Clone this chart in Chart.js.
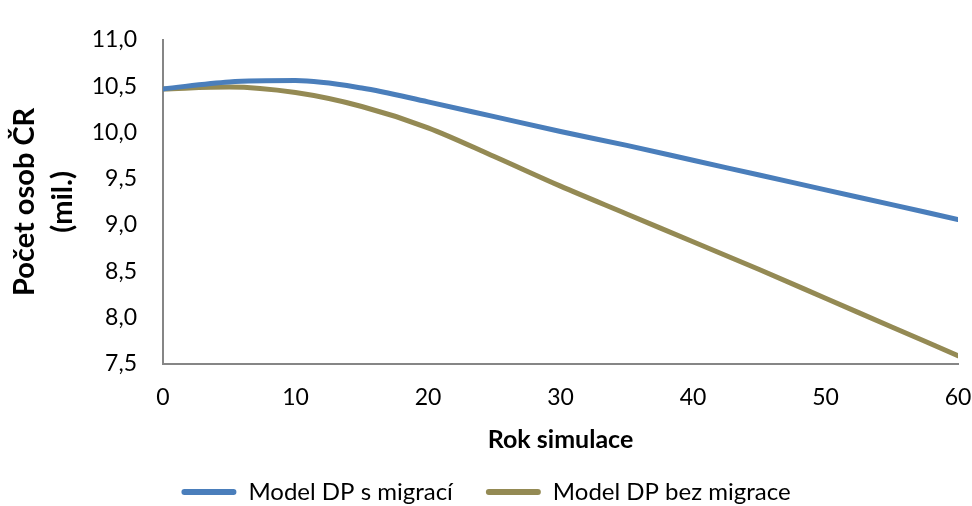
<!DOCTYPE html>
<html>
<head>
<meta charset="utf-8">
<script src="https://cdn.jsdelivr.net/npm/chart.js@4"></script>
<style>
  html, body { margin: 0; padding: 0; background: #fff; }
  #wrap { width: 972px; height: 506px; }
</style>
</head>
<body>
<div id="wrap"><canvas id="graf"></canvas></div>
<script>
// roky simulace a odhadnuté hodnoty (mil. osob)
let roky = [0, 5, 10, 15, 20, 25, 30, 35, 40, 45, 50, 55, 60]
let sMigraci = [10.47, 10.545, 10.56, 10.48, 10.33, 10.17, 10.01, 9.86, 9.70, 9.54, 9.38, 9.22, 9.06]
let bezMigrace = [10.47, 10.49, 10.43, 10.28, 10.05, 9.74, 9.42, 9.12, 8.82, 8.52, 8.21, 7.90, 7.59]
let yTicks = [7.5, 8.0, 8.5, 9.0, 9.5, 10.0, 10.5, 11.0]
let xTicks = [0, 10, 20, 30, 40, 50, 60]

let font = 'Lato, "Open Sans", sans-serif'
let osa = '#868686'

let body = (ys) => roky.map((r, i) => ({ x: r, y: ys[i] }))

new Chart(document.getElementById('graf'), {
  type: 'line',
  data: {
    datasets: [{
      label: 'Model DP s migrací',
      data: body(sMigraci),
      borderColor: '#4a7ebb',
      backgroundColor: '#4a7ebb',
      borderWidth: 5,
      pointRadius: 0,
      cubicInterpolationMode: 'monotone',
      borderCapStyle: 'round'
    }, {
      label: 'Model DP bez migrace',
      data: body(bezMigrace),
      borderColor: '#948a54',
      backgroundColor: '#948a54',
      borderWidth: 5,
      pointRadius: 0,
      cubicInterpolationMode: 'monotone',
      borderCapStyle: 'round'
    }]
  },
  options: {
    responsive: true,
    maintainAspectRatio: false,
    animation: false,
    layout: { padding: { top: 27, right: 0, left: 0, bottom: 0 } },
    plugins: {
      tooltip: { enabled: false },
      legend: {
        position: 'bottom',
        maxHeight: 59,
        labels: {
          color: '#000',
          font: { family: font, size: 24 },
          boxWidth: 55,
          boxHeight: 6,
          padding: 33,
          useBorderRadius: true,
          borderRadius: 3,
          generateLabels: chart => Chart.defaults.plugins.legend.labels.generateLabels(chart)
            .map(l => ({ ...l, lineWidth: 0 }))
        }
      }
    },
    scales: {
      x: {
        type: 'linear',
        min: 0, max: 60,
        afterBuildTicks: s => { s.ticks = xTicks.map(v => ({ value: v })) },
        afterFit: s => { s.height = 83; s.paddingRight = 14; s.paddingLeft = 0 },
        grid: { display: false, drawTicks: false },
        border: { display: true, color: osa, width: 2 },
        ticks: {
          color: '#000',
          padding: 20,
          font: { family: font, size: 23 }
        },
        title: {
          display: true,
          text: 'Rok simulace',
          color: '#000',
          padding: { top: 0, bottom: -8 },
          font: { family: font, size: 25, weight: 'bold' }
        }
      },
      y: {
        min: 7.5, max: 11,
        afterBuildTicks: s => { s.ticks = yTicks.map(v => ({ value: v })) },
        afterFit: s => { s.width = 163 },
        grid: { display: false, drawTicks: false },
        border: { display: true, color: osa, width: 2 },
        ticks: {
          color: '#000',
          padding: 26,
          font: { family: font, size: 23 },
          callback: v => v.toFixed(1).replace('.', ',')
        },
        title: {
          display: true,
          text: ['Počet osob ČR', '(mil.)'],
          color: '#000',
          padding: { top: 6, bottom: 0 },
          font: { family: font, size: 29, weight: 'bold', lineHeight: 1.3 }
        }
      }
    }
  }
})
</script>
</body>
</html>
